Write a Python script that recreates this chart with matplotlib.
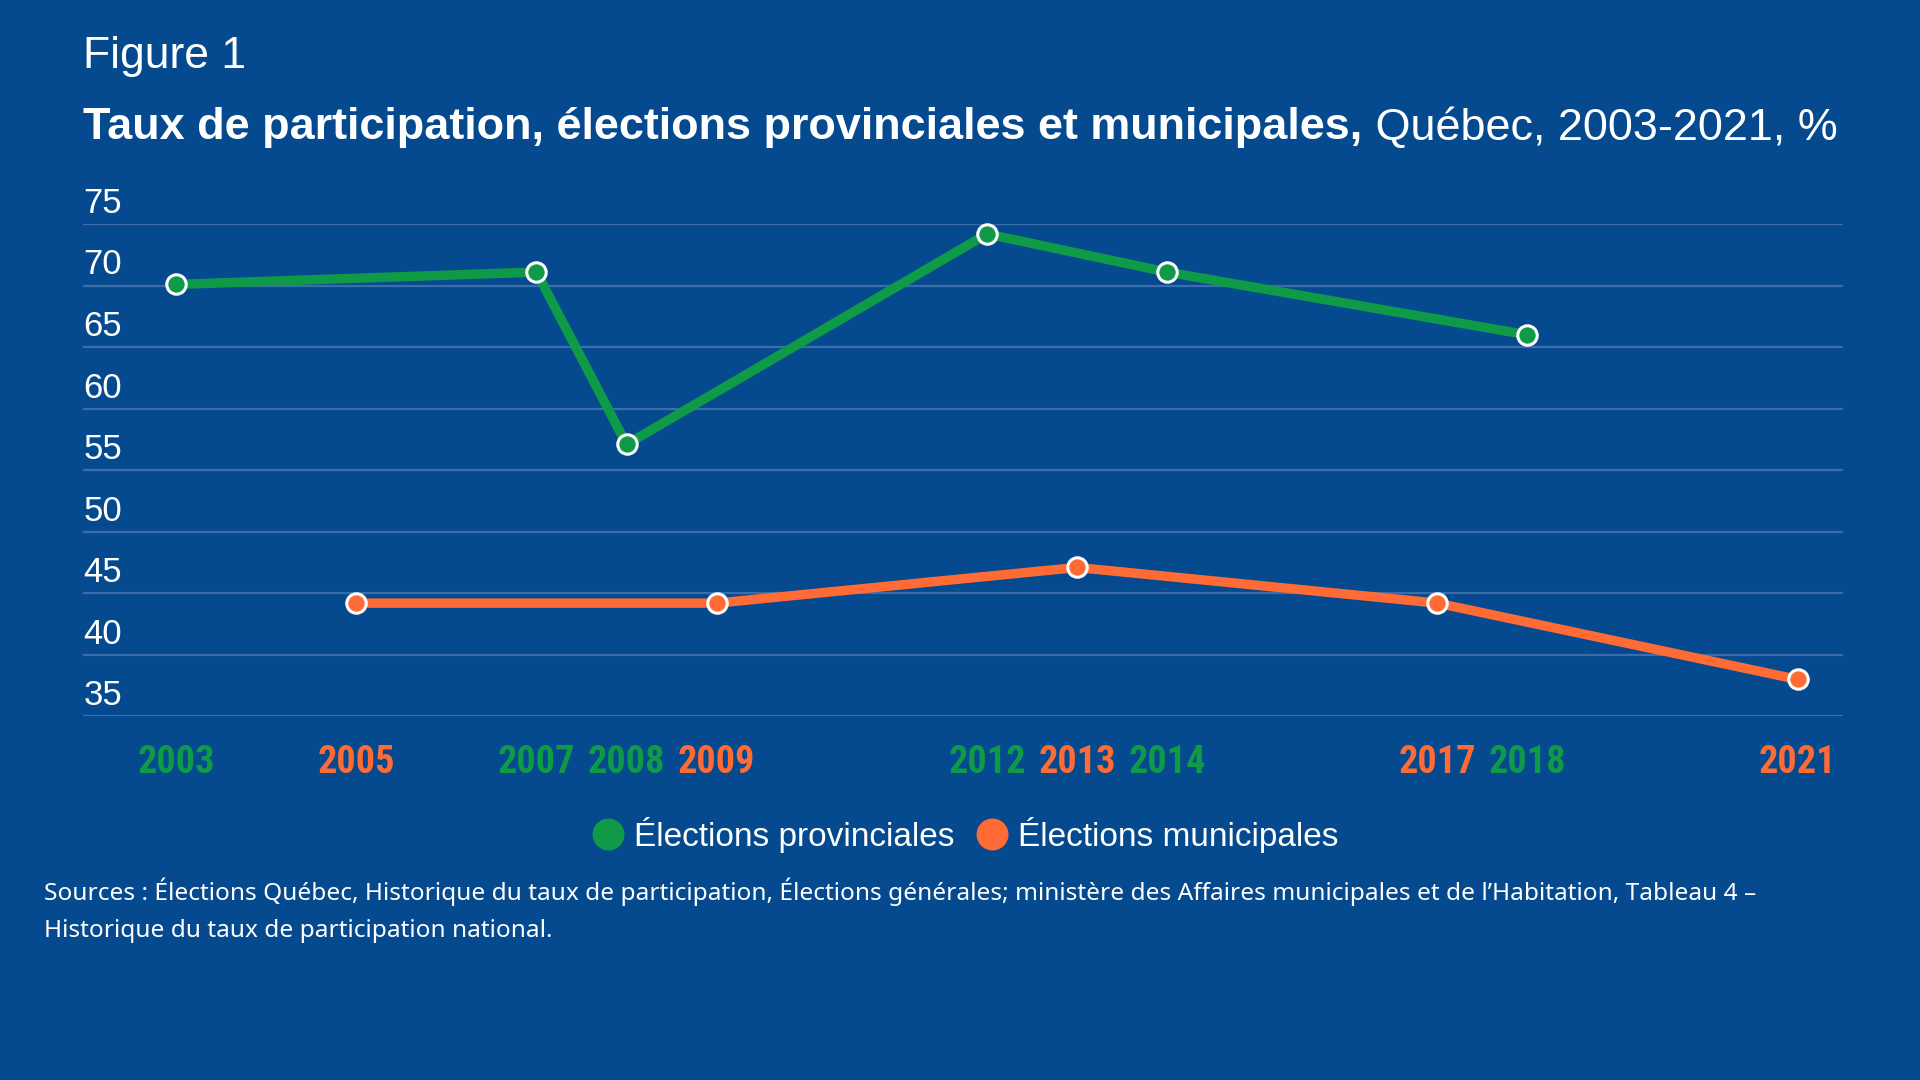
import matplotlib.pyplot as plt
from matplotlib.lines import Line2D

# Taux de participation, Québec 2003-2021

prov_years = [2003, 2007, 2008, 2012, 2014, 2018]
prov_values = [70.1, 71.1, 57.1, 74.2, 71.1, 66.0]

muni_years = [2005, 2009, 2013, 2017, 2021]
muni_values = [44.2, 44.2, 47.1, 44.2, 38.0]

y_ticks = [35, 40, 45, 50, 55, 60, 65, 70, 75]

BG = "#05498f"
GRID = "#3c6dab"
GREEN = "#0f9a48"
ORANGE = "#ff6b35"

fig = plt.figure(figsize=(19.2, 10.8), dpi=100, facecolor=BG)
ax = fig.add_axes([0.0434, 0.3367, 0.9164, 0.4558])
ax.set_facecolor(BG)

for v in y_ticks:
    ax.axhline(v, color=GRID, lw=1.6, zorder=1)
    ax.annotate(str(v), xy=(0, v), xycoords=ax.get_yaxis_transform(),
                xytext=(0, 3), textcoords="offset points",
                ha="left", va="bottom", color="white", fontsize=25,
                family="Liberation Sans")

ax.plot(prov_years, prov_values, color=GREEN, lw=6.8, zorder=3,
        marker="o", ms=14, mfc=GREEN, mec="white", mew=2.2, clip_on=False)
ax.plot(muni_years, muni_values, color=ORANGE, lw=6.8, zorder=3,
        marker="o", ms=14, mfc=ORANGE, mec="white", mew=2.2, clip_on=False)

ax.set_xlim(2001.97, 2021.5)
ax.set_ylim(35, 75)
for s in ax.spines.values():
    s.set_visible(False)
ax.set_yticks([])

all_years = sorted(prov_years + muni_years)
ax.set_xticks(all_years)
ax.set_xticklabels([str(y) for y in all_years], fontsize=27.5,
                   fontweight="bold", family="Roboto Condensed")
for lab, y in zip(ax.get_xticklabels(), all_years):
    lab.set_color(GREEN if y in prov_years else ORANGE)
ax.tick_params(axis="x", length=0, pad=20)

fig.text(0.0434, 0.948, "Figure 1", color="white", fontsize=32,
         family="Liberation Sans", va="center", ha="left")

t1 = fig.text(0.0434, 0.8815, "Taux de participation, élections provinciales et municipales,",
              color="white", fontsize=32.4, fontweight="bold",
              family="Liberation Sans", va="center", ha="left")
fig.canvas.draw()
bb = t1.get_window_extent()
x_end = bb.x1 / fig.bbox.width
fig.text(x_end, 0.8815, " Québec, 2003-2021, %", color="white", fontsize=32.4,
         family="Liberation Sans", va="center", ha="left")

handles = [
    Line2D([], [], ls="none", marker="o", ms=22, color=GREEN),
    Line2D([], [], ls="none", marker="o", ms=22, color=ORANGE),
]
fig.legend(handles, ["Élections provinciales", "Élections municipales"],
           loc="center", bbox_to_anchor=(0.5026, 0.2268), ncol=2,
           frameon=False, handletextpad=0.3, columnspacing=0.6,
           handlelength=1.0, labelcolor="white",
           prop={"family": "Liberation Sans", "size": 24})

fig.text(0.023, 0.1667, "Sources : Élections Québec, Historique du taux de participation, Élections générales; "
         "ministère des Affaires municipales et de l’Habitation, Tableau 4 –",
         color="white", fontsize=17.6, family="Noto Sans", va="baseline", ha="left")
fig.text(0.023, 0.1327, "Historique du taux de participation national.",
         color="white", fontsize=17.6, family="Noto Sans", va="baseline", ha="left")

fig.savefig("out.png", dpi=100, facecolor=BG)
